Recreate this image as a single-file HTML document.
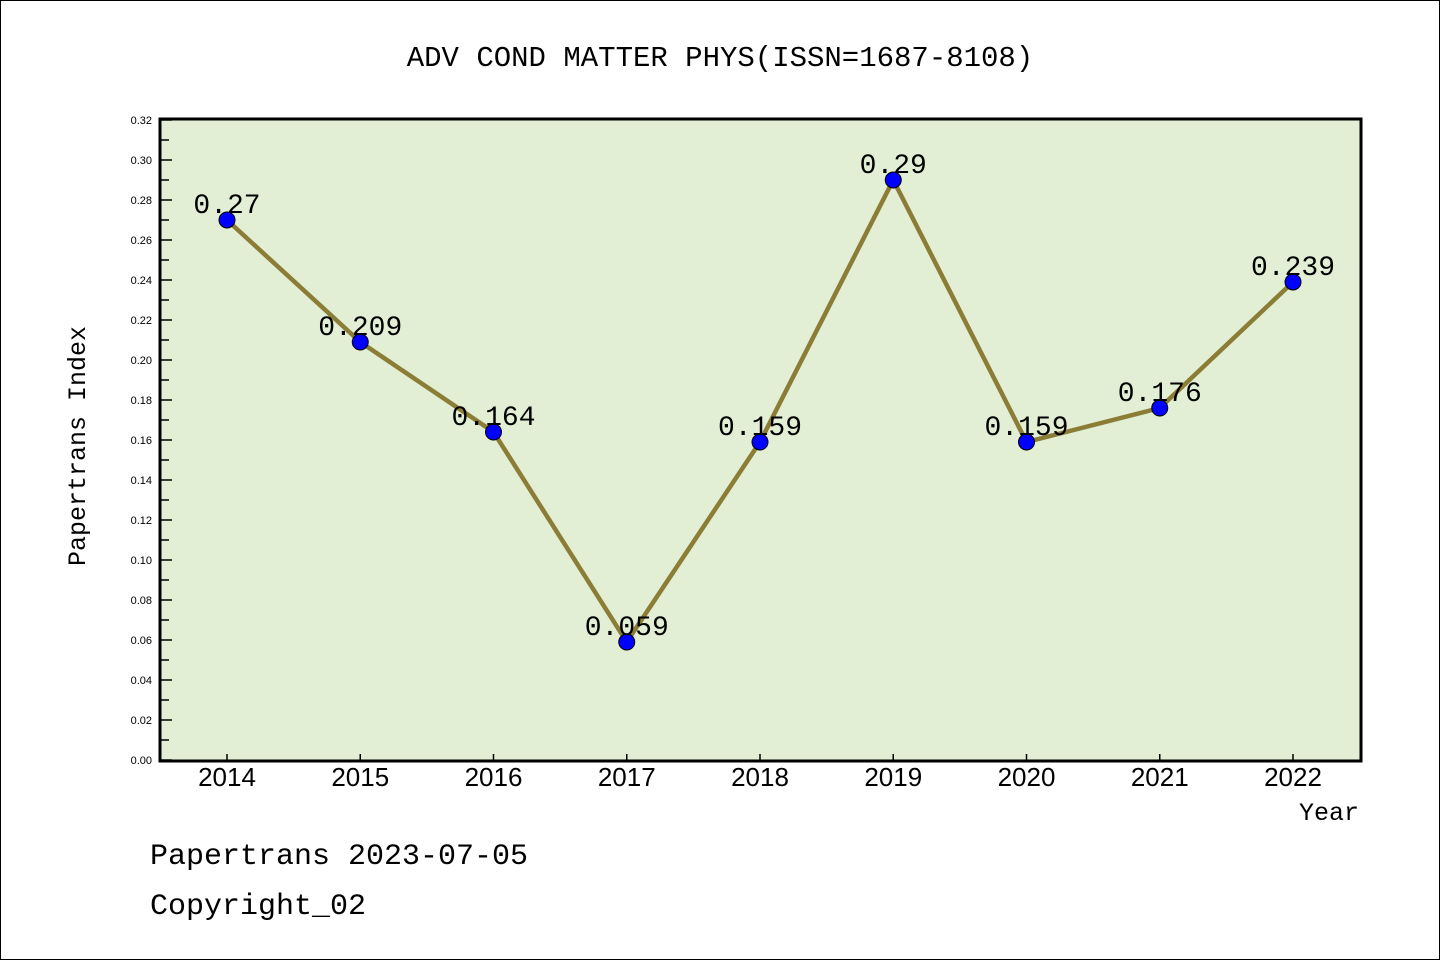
<!DOCTYPE html>
<html><head><meta charset="utf-8"><style>
body{margin:0;background:#fff}
svg{display:block}
text{font-family:"Liberation Mono","WenQuanYi Zen Hei",monospace;fill:#000}
.t{font-family:"Liberation Sans",sans-serif}
</style></head><body>
<svg id="c" width="1440" height="960">
<rect x="0.5" y="0.5" width="1439" height="959" fill="#fff" stroke="#000"/>
<text x="720" y="66" font-size="29" text-anchor="middle">ADV COND MATTER PHYS(ISSN=1687-8108)</text>
<rect x="160" y="120" width="1201" height="641" fill="#e2efd5"/>
<g id="yt"></g><g id="xt"></g>
<path d="M160,119 V761 H1361 V119 Z" fill="none" stroke="#000" stroke-width="3"/>
<g id="ser"></g>
<text transform="translate(85,446) rotate(-90)" font-size="25" text-anchor="middle">Papertrans Index</text>
<text x="1359" y="820" font-size="25" text-anchor="end">Year</text>
<text x="150" y="864" font-size="30">Papertrans 2023-07-05</text>
<text x="150" y="914" font-size="30">Copyright_02</text>
</svg>
<script>
const years=["2014","2015","2016","2017","2018","2019","2020","2021","2022"];
const values=[0.27,0.209,0.164,0.059,0.159,0.29,0.159,0.176,0.239];
const labels=["0.27","0.209","0.164","0.059","0.159","0.29","0.159","0.176","0.239"];
const yTicks=[0,0.02,0.04,0.06,0.08,0.10,0.12,0.14,0.16,0.18,0.20,0.22,0.24,0.26,0.28,0.30,0.32];
const NS="http://www.w3.org/2000/svg";
const y=v=>760-v/0.32*640;
const x=i=>227+i*(1293-227)/(years.length-1);
function mk(t,a,p){const e=document.createElementNS(NS,t);for(const k in a)e.setAttribute(k,a[k]);p.appendChild(e);return e;}
const yt=document.getElementById('yt');
yTicks.forEach((v,i)=>{
  const l=mk('line',{x1:160,x2:172,y1:y(v),y2:y(v),stroke:'#000','stroke-width':1.5},yt);
  
  
  const t=mk('text',{x:152,y:y(v)+4,'font-size':11,'text-anchor':'end',class:'t'},yt);
  t.textContent=v.toFixed(2);
  
  
  if(i<yTicks.length-1){
    const m=mk('line',{x1:160,x2:169,y1:y(v+0.01),y2:y(v+0.01),stroke:'#000','stroke-width':1.5},yt);
    
    
  }
});
const xt=document.getElementById('xt');
years.forEach((yr,i)=>{
  const l=mk('line',{x1:x(i),x2:x(i),y1:754,y2:760,stroke:'#000','stroke-width':1.5},xt);
  
  
  const t=mk('text',{x:x(i),y:786,'font-size':26,'text-anchor':'middle',class:'t'},xt);
  t.textContent=yr;
  
  
});
const ser=document.getElementById('ser');
const pl=mk('polyline',{points:values.map((v,i)=>x(i)+','+y(v)).join(' '),fill:'none',stroke:'#8c7d36','stroke-width':4.5},ser);


values.forEach((v,i)=>{
  const c=mk('circle',{cx:x(i),cy:y(v),r:8,fill:'#0000ff',stroke:'#000','stroke-width':1},ser);
  
  
});
values.forEach((v,i)=>{
  const t=mk('text',{x:x(i),y:y(v)-7,'font-size':28,'text-anchor':'middle'},ser);
  t.textContent=labels[i];
  
  
});
</script>
</body></html>
